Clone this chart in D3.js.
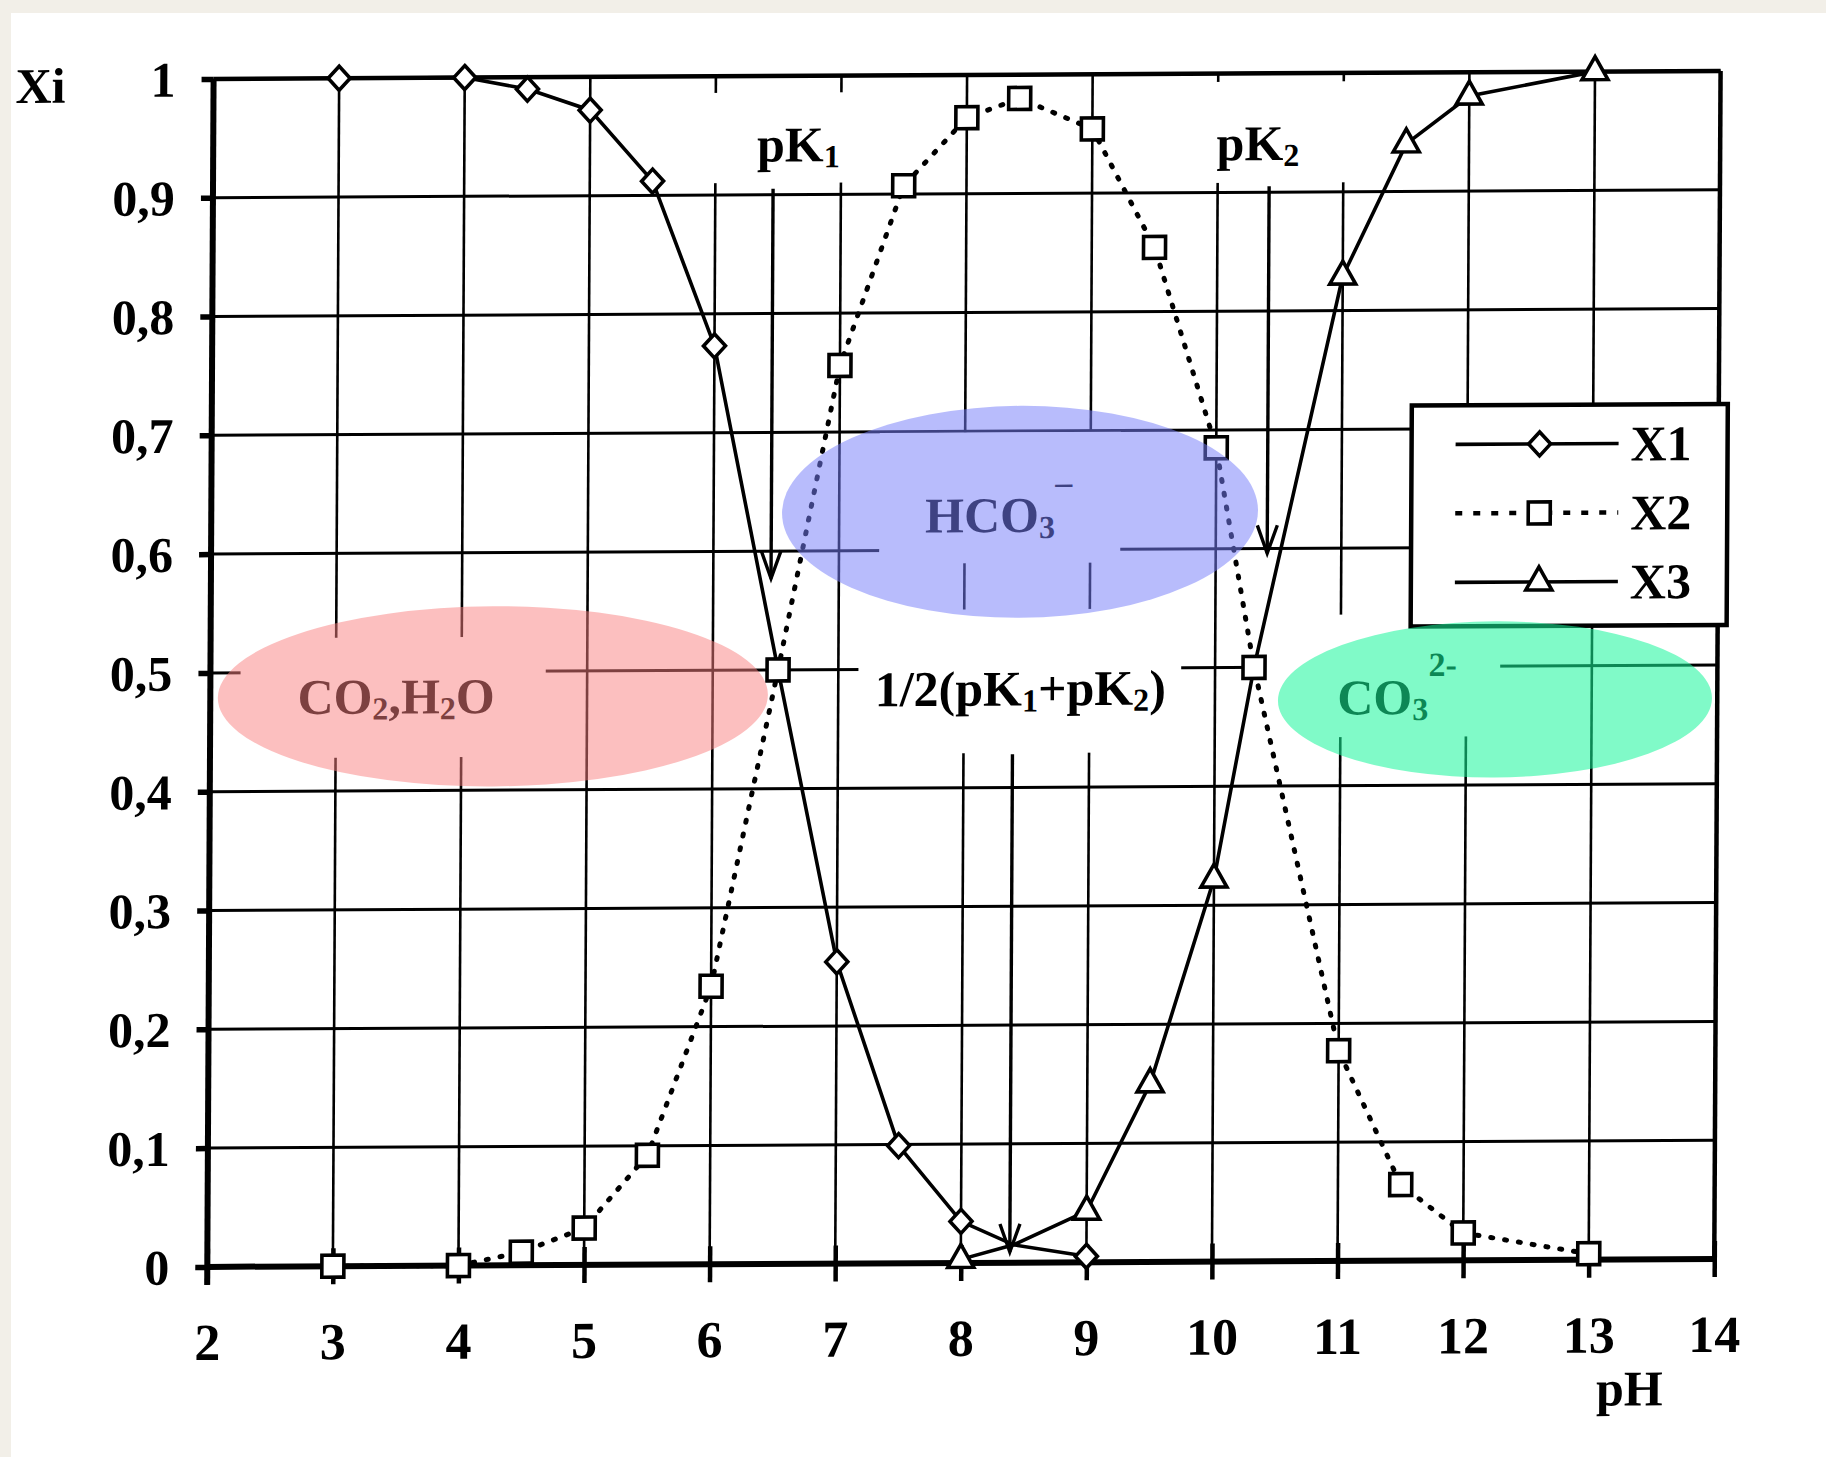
<!doctype html>
<html>
<head>
<meta charset="utf-8">
<script src="https://cdn.jsdelivr.net/npm/d3@7"></script>
<style>
    body { margin: 0; background: #f2efe8; }
    text { font-family: "Liberation Serif", "Times New Roman", serif; font-weight: bold; fill: #000; }
</style>
</head>
<body>
<svg id="chart" width="1826" height="1457"></svg>
<script>
// molar fractions of the carbonate species vs pH
var phX1  = [3, 4, 4.5, 5, 5.5, 6, 6.52, 7, 7.5, 8, 8.42, 9];
var valX1 = [1, 1, 0.99, 0.972, 0.912, 0.773, 0.5, 0.254, 0.099, 0.035, 0.015, 0.005];

var phX2  = [3, 4, 4.5, 5, 5.5, 6, 6.52, 7, 7.5, 8, 8.42, 9, 9.5, 10, 10.31, 11, 11.5, 12, 13];
var valX2 = [0, 0, 0.011, 0.031, 0.092, 0.234, 0.5, 0.756, 0.907, 0.964, 0.98, 0.954, 0.854, 0.685, 0.5, 0.177, 0.064, 0.023, 0.005];

var phX3  = [8, 8.42, 9, 9.5, 10, 10.31, 11, 11.5, 12, 13];
var valX3 = [0.003, 0.015, 0.043, 0.15, 0.322, 0.5, 0.829, 0.94, 0.98, 1.0];

var xTicks = [2, 3, 4, 5, 6, 7, 8, 9, 10, 11, 12, 13, 14];
var yTicks = [0, 0.1, 0.2, 0.3, 0.4, 0.5, 0.6, 0.7, 0.8, 0.9, 1];
var yTickLabels = ["0", "0,1", "0,2", "0,3", "0,4", "0,5", "0,6", "0,7", "0,8", "0,9", "1"];
var seriesNames = ["X1", "X2", "X3"];

// pK arrows: pH, start fraction, tip fraction
var arrowPh   = [6.46, 10.41, 8.39];
var arrowFrom = [0.905, 0.905, 0.428];
var arrowTo   = [0.577, 0.596, 0.009];

var svg = d3.select("#chart");

svg.append("rect").attr("x", 11).attr("y", 13).attr("width", 1815).attr("height", 1444).attr("fill", "#fff");

// the scan is slightly sheared
var g = svg.append("g").attr("transform", "matrix(1,-0.00524,-0.0053,1,0,0)");

var x = d3.scaleLinear().domain([2, 14]).range([214, 1721]);
var y = d3.scaleLinear().domain([0, 1]).range([1268, 80]);

// ---- grid
g.selectAll(".hgrid").data(yTicks).enter().append("line")
    .attr("x1", x(2)).attr("x2", x(14))
    .attr("y1", function(d) { return y(d); }).attr("y2", function(d) { return y(d); })
    .attr("stroke", "#000").attr("stroke-width", 3);
g.selectAll(".vgrid").data(xTicks.slice(1, -1)).enter().append("line")
    .attr("x1", function(d) { return x(d); }).attr("x2", function(d) { return x(d); })
    .attr("y1", y(0)).attr("y2", y(1))
    .attr("stroke", "#000").attr("stroke-width", 2.6);

// white boxes behind the text labels (they cut the grid in the original)
var boxes = [
    [5.80, 7.07, 0.910, 0.986],
    [9.82, 11.05, 0.908, 0.993],
    [7.32, 9.24, 0.589, 0.699],
    [7.16, 9.73, 0.429, 0.550],
    [2.24, 4.67, 0.428, 0.529],
    [10.40, 12.27, 0.441, 0.544]
];
g.selectAll(".box").data(boxes).enter().append("rect")
    .attr("x", function(d) { return x(d[0]); })
    .attr("width", function(d) { return x(d[1]) - x(d[0]); })
    .attr("y", function(d) { return y(d[3]); })
    .attr("height", function(d) { return y(d[2]) - y(d[3]); })
    .attr("fill", "#fff");

// ---- axes frame
g.append("line").attr("x1", x(14)).attr("x2", x(14)).attr("y1", y(0)).attr("y2", y(1))
    .attr("stroke", "#000").attr("stroke-width", 4.5);
g.append("line").attr("x1", x(2)).attr("x2", x(14)).attr("y1", y(1)).attr("y2", y(1))
    .attr("stroke", "#000").attr("stroke-width", 4.5);
g.append("g")
    .attr("transform", "translate(0," + y(0) + ")")
    .call(d3.axisBottom(x).tickValues(xTicks).tickSize(18).tickPadding(70).tickFormat(d3.format("d")))
    .call(function(a) {
        a.select(".domain").attr("stroke-width", 6).attr("d", "M" + x(2) + ",0H" + x(14));
        a.selectAll(".tick line").attr("stroke-width", 4.5).attr("y1", -18);
        a.selectAll(".tick text").attr("font-size", 52).attr("dy", 0).attr("y", 93).attr("fill", "#000");
    });
g.append("g")
    .attr("transform", "translate(" + x(2) + ",0)")
    .call(d3.axisLeft(y).tickValues(yTicks).tickSize(12).tickPadding(0)
        .tickFormat(function(d, i) { return yTickLabels[i]; }))
    .call(function(a) {
        a.select(".domain").attr("stroke-width", 6).attr("d", "M0," + (y(0) + 18) + "V" + y(1));
        a.selectAll(".tick line").attr("stroke-width", 5.5);
        a.selectAll(".tick text").attr("font-size", 50).attr("x", -38).attr("dy", 0).attr("y", 17)
            .attr("text-anchor", "end").attr("fill", "#000");
    });

g.append("text").attr("x", x(2) - 198).attr("y", y(1) + 23).attr("font-size", 50).text("Xi");
g.append("text").attr("x", x(13.33)).attr("y", y(0) + 146).attr("font-size", 50)
    .attr("text-anchor", "middle").text("pH");

// ---- series
function pts(ph, v) { return ph.map(function(p, i) { return [p, v[i]]; }); }
var s1 = pts(phX1, valX1), s2 = pts(phX2, valX2), s3 = pts(phX3, valX3);

var line = d3.line().x(function(d) { return x(d[0]); }).y(function(d) { return y(d[1]); });

g.append("path").datum(s1).attr("d", line).attr("fill", "none").attr("stroke", "#000").attr("stroke-width", 3.6);
g.append("path").datum(s3).attr("d", line).attr("fill", "none").attr("stroke", "#000").attr("stroke-width", 3.6);
g.append("path").datum(s2).attr("d", line).attr("fill", "none").attr("stroke", "#000")
    .attr("stroke-width", 5).attr("stroke-linecap", "round").attr("stroke-dasharray", "2,12");

var diamond = "M0,-12L11,0L0,12L-11,0Z";
var square = "M-11,-11H11V11H-11Z";
var triangle = "M0,-15L13,8L-13,8Z";

function markers(data, shape, cls) {
    g.selectAll("." + cls).data(data).enter().append("path")
        .attr("class", cls)
        .attr("d", shape)
        .attr("transform", function(d) { return "translate(" + x(d[0]) + "," + y(d[1]) + ")"; })
        .attr("fill", "#fff").attr("stroke", "#000").attr("stroke-width", 3.6);
}
// X1/X3 only carry markers on the half-unit pH grid
markers(s1.filter(function(d) { return Number.isInteger(d[0] * 2); }), diamond, "m1");
markers(s3.filter(function(d) { return Number.isInteger(d[0] * 2); }), triangle, "m3");
markers(s2, square, "m2");

// ---- arrows
arrowPh.forEach(function(p, i) {
    var ax = x(p), y0 = y(arrowFrom[i]), y1 = y(arrowTo[i]);
    g.append("line").attr("x1", ax).attr("x2", ax).attr("y1", y0).attr("y2", y1)
        .attr("stroke", "#000").attr("stroke-width", 3.4);
    g.append("path").attr("d", "M" + (ax - 10) + "," + (y1 - 28) + "L" + ax + "," + y1 + "L" + (ax + 10) + "," + (y1 - 28))
        .attr("fill", "none").attr("stroke", "#000").attr("stroke-width", 3.4);
});

// ---- legend
var leg = g.append("g").attr("transform", "translate(1414,413)");
leg.append("rect").attr("width", 316).attr("height", 221).attr("fill", "#fff")
    .attr("stroke", "#000").attr("stroke-width", 4.5);
var legShapes = [diamond, square, triangle];
seriesNames.forEach(function(name, i) {
    var ly = 39 + i * 69;
    var l = leg.append("line").attr("x1", 44).attr("x2", 207).attr("y1", ly).attr("y2", ly)
        .attr("stroke", "#000").attr("stroke-width", i === 1 ? 4.5 : 3.6);
    if (i === 1) l.attr("stroke-dasharray", "7,11");
    leg.append("path").attr("d", legShapes[i]).attr("transform", "translate(128," + ly + ")")
        .attr("fill", "#fff").attr("stroke", "#000").attr("stroke-width", 3.6);
    leg.append("text").attr("x", 219).attr("y", ly + 17).attr("font-size", 50).text(name);
});

// ---- annotation texts: [pH, fraction, [text, kind]...]
var notes = [
    [6.66, 0.928, [["pK", ""], ["1", "sub"]]],
    [10.32, 0.927, [["pK", ""], ["2", "sub"]]],
    [8.45, 0.469, [["1/2(pK", ""], ["1", "sub"], ["+pK", ""], ["2", "sub"], [")", ""]]],
    [8.27, 0.615, [["HCO", ""], ["3", "sub"], ["\u2013", "sup"]]],
    [3.48, 0.465, [["CO", ""], ["2", "sub"], [",H", ""], ["2", "sub"], ["O", ""]]],
    [11.45, 0.460, [["CO", ""], ["3", "sub"], ["2-", "sup"]]]
];
notes.forEach(function(n) {
    var t = g.append("text").attr("x", x(n[0])).attr("y", y(n[1]))
        .attr("font-size", 50).attr("text-anchor", "middle");
    var shift = 0;
    n[2].forEach(function(part) {
        var ts = t.append("tspan").text(part[0]);
        var target = part[1] === "sub" ? 6 : part[1] === "sup" ? -38 : 0;
        if (part[1]) ts.attr("font-size", part[1] === "sup" ? 34 : 32);
        ts.attr("dy", target - shift);
        shift = target;
    });
});

// ---- translucent highlight ellipses: [pH, fraction, rx (pH), ry (fraction), colour, opacity]
var blobs = [
    [4.25, 0.479, 2.19, 0.0758, "rgb(250,128,128)", 0.5],
    [8.44, 0.632, 1.895, 0.0892, "rgb(119,127,250)", 0.52],
    [12.23, 0.472, 1.728, 0.0657, "rgb(24,245,155)", 0.55]
];
g.selectAll(".blob").data(blobs).enter().append("ellipse")
    .attr("cx", function(d) { return x(d[0]); })
    .attr("cy", function(d) { return y(d[1]); })
    .attr("rx", function(d) { return x(d[0] + d[2]) - x(d[0]); })
    .attr("ry", function(d) { return y(d[1] - d[3]) - y(d[1]); })
    .attr("fill", function(d) { return d[4]; })
    .attr("fill-opacity", function(d) { return d[5]; });
</script>
</body>
</html>
